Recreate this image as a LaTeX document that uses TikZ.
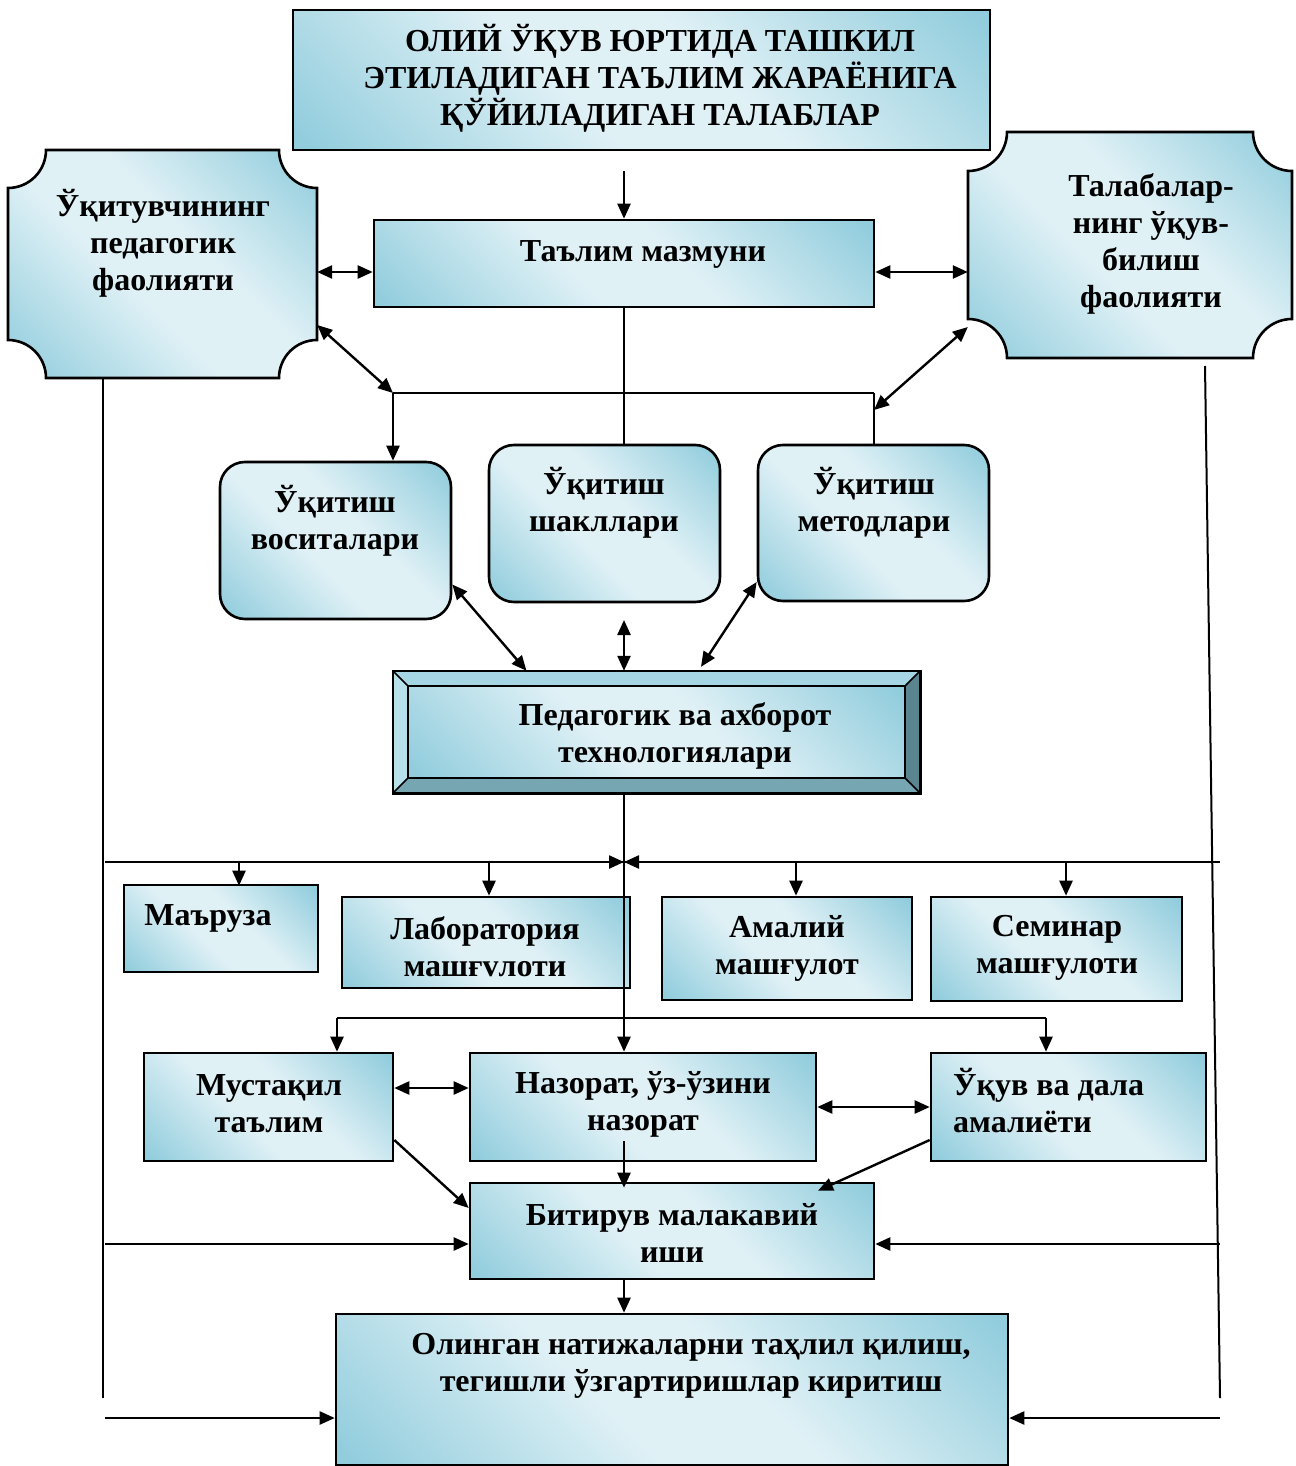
\documentclass[tikz,border=0pt]{standalone}
\usepackage{fontspec}
\setmainfont{Liberation Serif}
\usetikzlibrary{arrows.meta,calc}
\definecolor{aqd}{RGB}{146,205,221}
\definecolor{aql}{RGB}{224,241,246}
\definecolor{bvtop}{RGB}{166,214,227}
\definecolor{bvleft}{RGB}{184,224,234}
\definecolor{bvbot}{RGB}{118,166,178}
\definecolor{bvright}{RGB}{90,132,144}
\pgfdeclarehorizontalshading{aquagrad}{100bp}{color(0bp)=(aqd); color(16bp)=(aqd); color(43bp)=(aql); color(57bp)=(aql); color(84bp)=(aqd); color(100bp)=(aqd)}
\tikzset{
  grad/.style={shade, shading=aquagrad, shading angle=45},
  box/.style={grad, draw, line width=2.6pt, inner sep=0pt},
  rbox/.style={box, rounded corners=25pt},
  anchorbox/.style={inner sep=0pt},
  txt/.style={font=\fontsize{32}{37}\selectfont\bfseries, align=center, inner sep=0pt},
  conn/.style={line width=2.4pt},
  thin/.style={line width=2pt},
  arr/.style={conn, -{Triangle[length=15pt,width=13pt]}},
  darr/.style={conn, {Triangle[length=15pt,width=13pt]}-{Triangle[length=15pt,width=13pt]}}
}
\begin{document}
\begin{tikzpicture}[x=1pt,y=-1pt]
\useasboundingbox (0,0) rectangle (1295,1466);

% ---------- top box
\node[box, minimum width=697pt, minimum height=140pt] (top) at (641.5,80) {};
\node[txt] (topT) at (660,78) {ОЛИЙ ЎҚУВ ЮРТИДА ТАШКИЛ\\ЭТИЛАДИГАН ТАЪЛИМ ЖАРАЁНИГА\\ҚЎЙИЛАДИГАН ТАЛАБЛАР};

% ---------- left plaque
\draw[grad, line width=2.6pt] (46,150) -- (279,150) arc[start angle=180,end angle=90,radius=38]
  -- (317,340) arc[start angle=270,end angle=180,radius=38]
  -- (46,378) arc[start angle=0,end angle=-90,radius=38]
  -- (8,188) arc[start angle=90,end angle=0,radius=38] -- cycle;
\node[anchorbox, minimum width=309pt, minimum height=228pt] (teach) at (162.5,264) {};
\node[txt] (teachT) at (163,243) {Ўқитувчининг\\педагогик\\фаолияти};

% ---------- right plaque
\draw[grad, line width=2.6pt] (1007,132) -- (1253,132) arc[start angle=180,end angle=90,radius=39]
  -- (1292,319) arc[start angle=270,end angle=180,radius=39]
  -- (1007,358) arc[start angle=0,end angle=-90,radius=39]
  -- (968,171) arc[start angle=90,end angle=0,radius=39] -- cycle;
\node[anchorbox, minimum width=324pt, minimum height=226pt] (learn) at (1130,245) {};
\node[txt] (learnT) at (1151,244) {Талабалар-\\нинг ўқув-\\билиш\\фаолияти};

% ---------- content box
\node[box, minimum width=500pt, minimum height=87pt] (taalim) at (624,263.5) {};
\node[txt] (taalimT) at (643,254) {Таълим мазмуни};

% ---------- three rounded boxes
\node[rbox, minimum width=231pt, minimum height=157pt] (vosita) at (335.5,540.5) {};
\node[txt] (vositaT) at (335,521) {Ўқитиш\\воситалари};
\node[rbox, minimum width=231pt, minimum height=157pt] (shakl) at (604.5,523.5) {};
\node[txt] (shaklT) at (604,503) {Ўқитиш\\шакллари};
\node[rbox, minimum width=231pt, minimum height=156pt] (metod) at (873.5,523) {};
\node[txt] (metodT) at (874,503) {Ўқитиш\\методлари};

% ---------- bevel box
\node[anchorbox, minimum width=527pt, minimum height=122pt] (ped) at (656.5,732) {};
\fill[bvtop] (393,671) -- (920,671) -- (905,686) -- (408,686) -- cycle;
\fill[bvleft] (393,671) -- (408,686) -- (408,778) -- (393,793) -- cycle;
\fill[bvbot] (393,793) -- (408,778) -- (905,778) -- (920,793) -- cycle;
\fill[bvright] (920,671) -- (920,793) -- (905,778) -- (905,686) -- cycle;
\shade[grad] (408,686) rectangle (905,778);
\draw[line width=1.6pt] (408,686) rectangle (905,778)
  (393,671) -- (408,686) (920,671) -- (905,686) (393,793) -- (408,778) (920,793) -- (905,778);
\draw[line width=2.6pt] (ped.north west) rectangle (ped.south east);
\node[txt] (pedT) at (675,736) {Педагогик ва ахборот\\технологиялари};

% ---------- lesson forms
\node[box, minimum width=194pt, minimum height=87pt] (maruza) at (221,928.5) {};
\node[txt] (maruzaT) at (208,918) {Маъруза};
\node[box, minimum width=288pt, minimum height=91pt] (lab) at (486,942.5) {};
\node[txt] (labT) at (485,947) {Лаборатория\\машғvлоти};
\node[box, minimum width=250pt, minimum height=103pt] (amal) at (787,948.5) {};
\node[txt] (amalT) at (787,948) {Амалий\\машғулот};
\node[box, minimum width=251pt, minimum height=104pt] (semin) at (1056.5,949) {};
\node[txt] (seminT) at (1057,948) {Семинар\\машғулоти};

% ---------- second row
\node[box, minimum width=249pt, minimum height=108pt] (must) at (268.5,1107) {};
\node[txt] (mustT) at (269,1104) {Мустақил\\таълим};
\node[box, minimum width=346pt, minimum height=108pt] (naz) at (643,1107) {};
\node[txt] (nazT) at (643,1104) {Назорат, ўз-ўзини\\назорат};
\node[box, minimum width=275pt, minimum height=108pt] (ukuv) at (1068.5,1107) {};
\node[txt, align=left, anchor=west] (ukuvT) at (953,1101) {Ўқув ва дала\\амалиёти};

% ---------- thesis
\node[box, minimum width=404pt, minimum height=96pt] (bitir) at (672,1231) {};
\node[txt] (bitirT) at (672,1233) {Битирув малакавий\\иши};

% ---------- final box
\node[box, minimum width=672pt, minimum height=151pt] (olin) at (672,1389.5) {};
\node[txt] (olinT) at (691,1366) {Олинган натижаларни таҳлил қилиш,\\тегишли ўзгартиришлар киритиш};

% ---------- helper coordinates
\coordinate (y272) at (0,272);
\coordinate (jL) at (393,393);
\coordinate (jR) at (874,393);
\coordinate (c620) at (624,620);
\coordinate (busL) at (105,862);
\coordinate (busR) at (1220,862);
\coordinate (busC) at (624,862);
\coordinate (b2L) at (337,1018);
\coordinate (b2R) at (1046,1018);
\coordinate (vLend) at (103,1398);
\coordinate (vRs) at (1205,366);
\coordinate (vRend) at (1220,1398);
\coordinate (inL1) at (105,1244);
\coordinate (inR1) at (1220,1244);
\coordinate (inL2) at (105,1418);
\coordinate (inR2) at (1220,1418);

% ---------- connectors
\draw[arr] ($(top.south -| taalim.north)+(0,20)$) -- (taalim.north);
\draw[darr] (teach.east |- y272) -- (taalim.west |- y272);
\draw[darr] (taalim.east |- y272) -- (learn.west |- y272);
\draw[conn] (taalim.south) -- (taalim.south |- shakl.north);
\draw[conn] (jL) -- (jR);
\draw[arr] (jL) -- (jL |- vosita.north);
\draw[conn] (jR) -- (jR |- metod.north);
\draw[darr] ($(teach.east)+(0,61)$) -- (jL);
\draw[darr] ($(learn.west)+(0,82)$) -- ($(jR)+(0,17)$);
\draw[darr] ($(vosita.east)+(0,44)$) -- ($(ped.north)+(-130,0)$);
\draw[darr] (c620) -- (c620 |- ped.north);
\draw[darr] ($(metod.west)+(0,59)$) -- ($(ped.north)+(44.5,-4)$);
\draw[arr] (ped.south -| taalim.south) -- (naz.north -| taalim.south);

\draw[conn] (busL) -- (busR);
\draw[arr] (busL) -- (busC);
\draw[arr] (busR) -- (busC);
\draw[arr] ($(maruza.north)+(18,-23)$) -- ($(maruza.north)+(18,2)$);
\draw[arr] ($(lab.north)+(3,-35)$) -- ($(lab.north)+(3,0)$);
\draw[arr] ($(amal.north)+(9,-35)$) -- ($(amal.north)+(9,0)$);
\draw[arr] ($(semin.north)+(9.5,-35)$) -- ($(semin.north)+(9.5,0)$);

\draw[conn] (b2L) -- (b2R);
\draw[arr] (b2L) -- (b2L |- must.north);
\draw[arr] (b2R) -- (b2R |- ukuv.north);
\draw[darr] ($(must.east)+(0,-19)$) -- ($(naz.west)+(0,-19)$);
\draw[darr] (naz.east) -- (ukuv.west);
\draw[arr] ($(naz.south -| taalim.south)+(0,-21)$) -- ($(bitir.north -| taalim.south)+(0,6)$);
\draw[arr] ($(must.east)+(0,33)$) -- ($(bitir.west)+(0,-23)$);
\draw[arr] ($(ukuv.west)+(0,33)$) -- ($(bitir.north)+(146,9)$);
\draw[arr] (inL1) -- (bitir.west |- inL1);
\draw[arr] (inR1) -- (bitir.east |- inR1);
\draw[arr] (bitir.south -| taalim.south) -- (olin.north -| taalim.south);
\draw[arr] (inL2) -- (olin.west |- inL2);
\draw[arr] (inR2) -- (olin.east |- inR2);

\draw[thin] (teach.south -| vLend) -- (vLend);
\draw[thin] (vRs) -- (vRend);
\end{tikzpicture}
\end{document}
